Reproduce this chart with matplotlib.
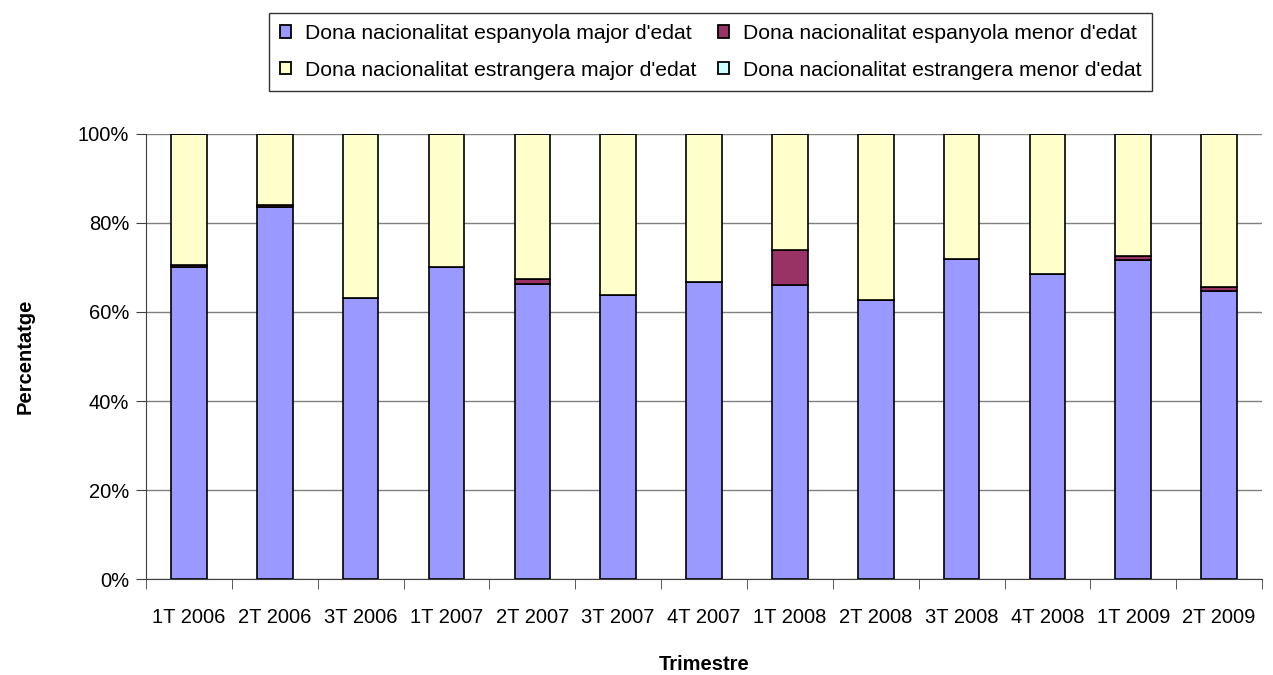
import matplotlib
matplotlib.use("Agg")
import matplotlib.pyplot as plt
import matplotlib.patches as mpatches
import numpy as np

plt.rcParams["font.family"] = ["Liberation Sans Narrow", "Liberation Sans", "DejaVu Sans"]

trimestres = ["1T 2006", "2T 2006", "3T 2006", "1T 2007", "2T 2007", "3T 2007", "4T 2007",
              "1T 2008", "2T 2008", "3T 2008", "4T 2008", "1T 2009", "2T 2009"]

esp_major = [70.1, 83.5, 63.1, 70.0, 66.4, 63.8, 66.7, 66.0, 62.7, 71.8, 68.6, 71.7, 64.8]
esp_menor = [0.5, 0.5, 0.0, 0.0, 1.1, 0.0, 0.0, 8.0, 0.0, 0.0, 0.0, 0.8, 0.8]
estr_menor = [0.0] * 13
estr_major = [100 - a - b - c for a, b, c in zip(esp_major, esp_menor, estr_menor)]

labels = ["Dona nacionalitat espanyola major d'edat",
          "Dona nacionalitat espanyola menor d'edat",
          "Dona nacionalitat estrangera major d'edat",
          "Dona nacionalitat estrangera menor d'edat"]
colors = ["#9999FF", "#993366", "#FFFFCC", "#CCFFFF"]

fig = plt.figure(figsize=(12.73, 6.75), dpi=100)
ax = fig.add_axes([0.1147, 0.1422, 0.8767, 0.6593])

x = np.arange(len(trimestres))
series = [esp_major, esp_menor, estr_major, estr_menor]
bottom = np.zeros(len(trimestres))
for vals, col in zip(series, colors):
    ax.bar(x, vals, bottom=bottom, width=0.415, color=col, edgecolor="black",
           linewidth=1.2, zorder=3)
    bottom += np.array(vals)

ax.set_xlim(-0.5, len(trimestres) - 0.5)
ax.set_ylim(0, 100)
ax.set_yticks([0, 20, 40, 60, 80, 100])
ax.set_yticklabels([f"{v}%" for v in [0, 20, 40, 60, 80, 100]])
ax.yaxis.grid(True, color="#808080", linewidth=1, zorder=0)
ax.set_axisbelow(True)

ax.set_xticks(x)
ax.set_xticklabels(trimestres)
ax.tick_params(axis="x", which="major", length=0, pad=21, labelsize=14.5)
ax.set_xticks(np.arange(-0.5, len(trimestres), 1), minor=True)
ax.tick_params(axis="x", which="minor", length=7, color="#404040")
ax.tick_params(axis="y", length=7, color="#404040", labelsize=14.5, pad=5)

for s in ["top", "right"]:
    ax.spines[s].set_visible(False)
for s in ["left", "bottom"]:
    ax.spines[s].set_color("#404040")

ax.set_ylabel("Percentatge", fontsize=14.5, fontweight="bold", labelpad=31)
ax.set_xlabel("Trimestre", fontsize=14.5, fontweight="bold", labelpad=20)

handles = [mpatches.Patch(facecolor=c, edgecolor="black", linewidth=1.3, label=l)
           for c, l in zip(colors, labels)]
order = [0, 2, 1, 3]
leg = fig.legend([handles[i] for i in order], [labels[i] for i in order],
                 ncol=2, loc="center", bbox_to_anchor=(0.5585, 0.923), fontsize=15.2,
                 frameon=True, fancybox=False, edgecolor="black", handlelength=0.5,
                 handleheight=0.5, handletextpad=0.7, columnspacing=1.0,
                 borderpad=0.5, labelspacing=0.85, borderaxespad=0)
leg.get_frame().set_linewidth(1)

fig.savefig("out.png", dpi=100)
